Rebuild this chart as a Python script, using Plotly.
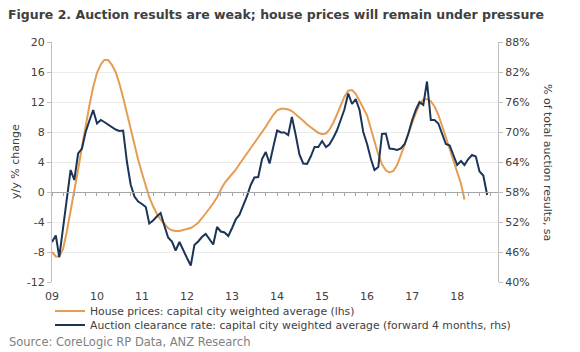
import pandas as pd
import plotly.graph_objects as go

# Monthly dates starting Jan 2009
house_start = "2009-01-01"
auction_start = "2009-01-01"

# House prices y/y % change (lhs), Jan 2009 - Mar 2018
house_prices = [
    -8.0, -8.6, -8.6, -7.6, -5.3, -2.6, 0.2, 3.0, 6.0, 8.9, 11.6, 14.0,
    15.9, 17.0, 17.6, 17.6, 17.0, 16.0, 14.5, 12.6, 10.5, 8.3, 6.2, 4.3,
    2.5, 0.8, -0.7, -1.9, -2.9, -3.7, -4.3, -4.8, -5.1, -5.2, -5.2, -5.1,
    -5.0, -4.8, -4.5, -4.1, -3.5, -2.9, -2.2, -1.5, -0.7, 0.3, 1.2, 1.8,
    2.4, 3.0, 3.7, 4.4, 5.2, 5.8, 6.5, 7.3, 8.0, 8.7, 9.5, 10.3,
    10.9, 11.1, 11.1, 11.0, 10.8, 10.4, 10.0, 9.5, 9.0, 8.6, 8.2, 7.9,
    7.7, 7.8, 8.3, 9.2, 10.3, 11.5, 12.7, 13.5, 13.6, 13.1, 12.2, 11.2,
    10.2, 8.5, 6.6, 5.0, 3.7, 2.9, 2.6, 2.8, 3.6, 4.8, 6.3, 7.8,
    9.3, 10.6, 11.7, 12.3, 12.4, 12.1, 11.4, 10.3, 8.8, 7.3, 5.7, 4.2,
    2.6, 1.1, -1.0,
]

# Auction clearance rate, % (rhs), Jan 2009 - Sep 2018
auction_rate = [
    48.0, 49.3, 45.0, 51.1, 56.8, 62.4, 60.4, 65.7, 66.7, 70.0, 72.3, 74.4,
    71.7, 72.4, 72.0, 71.5, 71.1, 70.5, 70.2, 70.3, 64.0, 59.5, 57.1, 56.1,
    55.6, 55.0, 51.7, 52.3, 53.1, 53.8, 51.3, 48.9, 48.1, 46.3, 48.0, 46.3,
    44.8, 43.3, 47.4, 48.1, 49.0, 49.6, 48.6, 47.5, 51.0, 50.1, 49.9, 49.2,
    50.8, 52.6, 53.4, 55.2, 57.1, 59.4, 60.9, 61.0, 64.6, 66.0, 63.7, 67.0,
    70.3, 69.9, 69.9, 69.4, 73.0, 69.4, 65.5, 63.7, 63.6, 65.1, 67.0, 67.0,
    68.2, 67.0, 67.5, 68.8, 70.3, 72.4, 74.5, 77.7, 75.6, 76.6, 74.4, 70.0,
    67.6, 64.6, 62.4, 63.0, 69.6, 69.7, 66.7, 66.6, 66.4, 66.7, 67.6, 69.7,
    72.4, 74.5, 76.0, 75.4, 80.1, 72.4, 72.4, 71.7, 69.7, 67.6, 67.3, 65.2,
    63.4, 64.2, 63.4, 64.6, 65.4, 65.1, 62.1, 61.3, 57.4,
]

lhs_ticks = [-12, -8, -4, 0, 4, 8, 12, 16, 20]
lhs_labels = ["-12", "-8", "-4", "0", "4", "8", "12", "16", "20"]
rhs_ticks = [40, 46, 52, 58, 64, 70, 76, 82, 88]
rhs_labels = ["40%", "46%", "52%", "58%", "64%", "70%", "76%", "82%", "88%"]

house_dates = pd.date_range(house_start, periods=len(house_prices), freq="MS")
auction_dates = pd.date_range(auction_start, periods=len(auction_rate), freq="MS")

ORANGE = "#E59D52"
NAVY = "#1C3557"
TXT = "#404040"
FONT = "DejaVu Sans"

fig = go.Figure()
fig.add_trace(go.Scatter(
    x=house_dates, y=house_prices, mode="lines",
    line=dict(color=ORANGE, width=2),
    name="House prices: capital city weighted average (lhs)",
    legend="legend",
))
fig.add_trace(go.Scatter(
    x=auction_dates, y=auction_rate, mode="lines", yaxis="y2",
    line=dict(color=NAVY, width=2),
    name="Auction clearance rate: capital city weighted average (forward 4 months, rhs)",
    legend="legend2",
))

x_range = ["2009-01-01", "2018-11-28"]

fig.update_layout(
    width=580, height=352,
    margin=dict(l=52, r=82, t=42, b=70, autoexpand=False),
    paper_bgcolor="white", plot_bgcolor="white",
    font=dict(family=FONT, size=11, color=TXT),
    title=dict(
        text="<b>Figure 2. Auction results are weak; house prices will remain under pressure</b>",
        x=8 / 580, xanchor="left", xref="container",
        y=1 - 15 / 352, yanchor="middle", yref="container",
        font=dict(family=FONT, size=12.5, color=TXT),
    ),
    xaxis=dict(
        type="date", range=x_range, tickformat="%y", dtick="M12",
        tick0="2009-01-01", showgrid=False,
        anchor="free", position=12 / 32,
        showline=True, linecolor="#a6a6a6", linewidth=1,
        ticks="outside", ticklen=3, tickcolor="#a6a6a6",
        minor=dict(dtick="M3", tick0="2009-01-01", ticks="outside",
                   ticklen=3, tickcolor="#a6a6a6", showgrid=False),
        ticklabelstandoff=91,
        zeroline=False, tickfont=dict(size=11, color=TXT),
    ),
    yaxis=dict(
        range=[-12, 20], tickvals=lhs_ticks, ticktext=lhs_labels,
        showgrid=True, gridcolor="#ebebeb", gridwidth=1, zeroline=False,
        showline=True, linecolor="#bfbfbf", ticks="outside", ticklen=4,
        tickcolor="#bfbfbf", tickfont=dict(size=11, color=TXT),
    ),
    yaxis2=dict(
        range=[40, 88], tickvals=rhs_ticks, ticktext=rhs_labels,
        overlaying="y", side="right", showgrid=False, zeroline=False,
        showline=True, linecolor="#bfbfbf", ticks="outside", ticklen=4,
        tickcolor="#bfbfbf", tickfont=dict(size=11, color=TXT),
    ),
    legend=dict(
        xref="container", yref="container", x=50 / 580, y=1 - 311 / 352,
        xanchor="left", yanchor="middle", bgcolor="rgba(0,0,0,0)",
        font=dict(size=10.8, color=TXT), itemwidth=30,
    ),
    legend2=dict(
        xref="container", yref="container", x=50 / 580, y=1 - 325 / 352,
        xanchor="left", yanchor="middle", bgcolor="rgba(0,0,0,0)",
        font=dict(size=10.8, color=TXT), itemwidth=30,
    ),
    annotations=[
        dict(text="y/y % change", textangle=-90, xref="paper", yref="paper",
             x=-37 / 446, y=0.5, xanchor="center", yanchor="middle",
             showarrow=False, font=dict(size=11, color=TXT)),
        dict(text="% of total auction results, sa", textangle=90,
             xref="paper", yref="paper", x=1 + 50 / 446, y=0.5,
             xanchor="center", yanchor="middle", showarrow=False,
             font=dict(size=11, color=TXT)),
        dict(text="Source: CoreLogic RP Data, ANZ Research",
             xref="paper", yref="paper", x=-45 / 446, y=-60 / 240,
             xanchor="left", yanchor="middle", showarrow=False,
             font=dict(size=11.5, color="#808080")),
    ],
    showlegend=True,
)

fig.write_html("out.html")
